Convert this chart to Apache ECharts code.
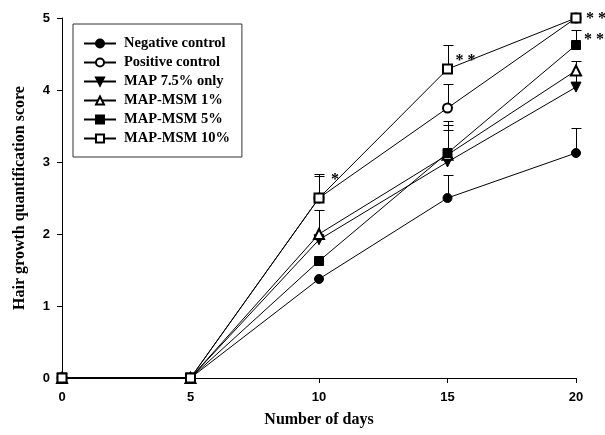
<!DOCTYPE html>
<html><head><meta charset="utf-8">
<script src="https://cdn.jsdelivr.net/npm/echarts@6/dist/echarts.min.js"></script>
<style>html,body{margin:0;padding:0;background:#fff}#c{width:605px;height:435px}</style>
</head><body><div id="c"></div>
<script>
const days = [0, 5, 10, 15, 20];
const xTicks = [0, 5, 10, 15, 20];
const yTicks = [0, 1, 2, 3, 4, 5];
const seriesNames = ['Negative control', 'Positive control', 'MAP 7.5% only', 'MAP-MSM 1%', 'MAP-MSM 5%', 'MAP-MSM 10%'];
const negative = [0, 0, 1.375, 2.5, 3.125];
const positive = [0, 0, 2.5, 3.75, 5.0];
const map75 = [0, 0, 1.92, 3.0, 4.04];
const msm1 = [0, 0, 2.0, 3.1, 4.27];
const msm5 = [0, 0, 1.625, 3.125, 4.625];
const msm10 = [0, 0, 2.5, 4.29, 5.0];
const errNegative = [0, 0, 0, 0.32, 0.35];
const errPositive = [0, 0, 0.31, 0.33, 0];
const errMap75 = [0, 0, 0, 0.45, 0.36];
const errMsm1 = [0, 0, 0.34, 0.41, 0];
const errMsm5 = [0, 0, 0, 0.445, 0.21];
const errMsm10 = [0, 0, 0.33, 0.335, 0];
const annDay = [10, 15, 20, 20];
const annValue = [2.5, 4.29, 5.0, 4.625];
const annText = ['*', '* *', '* *', '* *'];

const values = [negative, positive, map75, msm1, msm5, msm10];
const errs = [errNegative, errPositive, errMap75, errMsm1, errMsm5, errMsm10];
const symbols = ['circle', 'emptyCircle', 'path://M0,0L10,0L5,9Z', 'emptyTriangle', 'rect', 'emptyRect'];
const symSizes = [9, 9, 10, 10, 9, 9];
const annOffsets = [[12, -26], [8, -16], [10, -7], [8, -13]];

const errData = [];
errs.forEach((e, si) => e.forEach((v, i) => { if (v > 0) errData.push([days[i], values[si][i], values[si][i] + v]); }));

const lineSeries = seriesNames.map((n, si) => ({
  name: n, type: 'line', z: 3 + si,
  data: days.map((d, i) => [d, values[si][i]]),
  symbol: symbols[si], symbolSize: symSizes[si], showAllSymbol: true,
  itemStyle: {color: '#000', borderColor: '#000', borderWidth: 1},
  lineStyle: {color: '#000', width: 1},
  emphasis: {disabled: true}, animation: false
}));

const chart = echarts.init(document.getElementById('c'), null, {renderer: 'canvas'});
chart.setOption({
  animation: false,
  backgroundColor: '#fff',
  grid: {left: 62, right: 29, top: 18, bottom: 57, containLabel: false},
  legend: {
    data: seriesNames, orient: 'vertical', left: 73, top: 24,
    padding: [12, 12, 11, 10], itemWidth: 32, itemHeight: 10, itemGap: 4,
    borderColor: '#333', borderWidth: 1, selectedMode: false,
    textStyle: {fontFamily: 'Liberation Serif', fontWeight: 'bold', fontSize: 14.5, color: '#000', lineHeight: 14, padding: [0, 0, 0, 3]}
  },
  xAxis: {
    type: 'value', min: 0, max: 20, interval: 5,
    name: 'Number of days', nameLocation: 'middle', nameGap: 34,
    nameTextStyle: {fontFamily: 'Liberation Serif', fontWeight: 'bold', fontSize: 16, color: '#000'},
    axisLine: {lineStyle: {color: '#000', width: 1}},
    axisTick: {show: true, length: 5, lineStyle: {color: '#000'}},
    axisLabel: {fontFamily: 'Liberation Sans', fontWeight: 'bold', fontSize: 13, color: '#000', margin: 13,
      formatter: v => xTicks.includes(v) ? String(v) : ''},
    splitLine: {show: false}
  },
  yAxis: {
    type: 'value', min: 0, max: 5, interval: 1,
    name: 'Hair growth quantification score', nameLocation: 'middle', nameGap: 34,
    nameTextStyle: {fontFamily: 'Liberation Serif', fontWeight: 'bold', fontSize: 16, color: '#000'},
    axisLine: {show: true, lineStyle: {color: '#000', width: 1}},
    axisTick: {show: true, length: 5, lineStyle: {color: '#000'}},
    axisLabel: {fontFamily: 'Liberation Sans', fontWeight: 'bold', fontSize: 13, color: '#000', margin: 12,
      formatter: v => yTicks.includes(v) ? String(v) : ''},
    splitLine: {show: false}
  },
  series: [
    {
      type: 'custom', z: 2, data: errData, silent: true,
      renderItem: (params, api) => {
        const p0 = api.coord([api.value(0), api.value(1)]);
        const p1 = api.coord([api.value(0), api.value(2)]);
        const x = Math.round(p0[0]) + 0.5, y1 = Math.round(p1[1]) + 0.5;
        return {type: 'group', children: [
          {type: 'line', shape: {x1: x, y1: p0[1], x2: x, y2: y1}, style: {stroke: '#000', lineWidth: 1}},
          {type: 'line', shape: {x1: x - 5, y1: y1, x2: x + 5, y2: y1}, style: {stroke: '#000', lineWidth: 1}}
        ]};
      }
    },
    ...lineSeries,
    {
      type: 'custom', z: 20, silent: true,
      data: annDay.map((d, i) => [d, annValue[i], i]),
      renderItem: (params, api) => {
        const i = api.value(2);
        const p = api.coord([api.value(0), api.value(1)]);
        return {type: 'text', x: p[0] + annOffsets[i][0], y: p[1] + annOffsets[i][1],
          style: {text: annText[i], fontFamily: 'Liberation Serif', fontWeight: 'bold', fontSize: 16, fill: '#000', textVerticalAlign: 'top'}};
      }
    }
  ]
});
</script></body></html>
